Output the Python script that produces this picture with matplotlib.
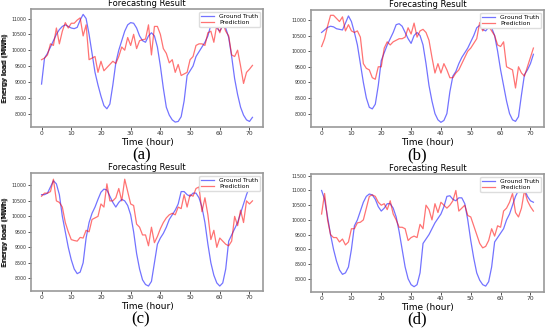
import numpy as np
import matplotlib
matplotlib.use('Agg')
import matplotlib.pyplot as plt
from matplotlib import font_manager

hours = np.arange(72)

# (a)
truth_a = [8930, 9750, 9900, 10100, 10300, 10500, 10650, 10750, 10800, 10750,
           10700, 10680, 10720, 10950, 11130, 11000, 10500, 9900, 9300, 8900,
           8550, 8250, 8150, 8300, 8900, 9600, 10000, 10300, 10600, 10800,
           10870, 10850, 10700, 10450, 10300, 10250, 10450, 10550, 10450, 10100,
           9500, 8800, 8200, 7950, 7800, 7730, 7750, 7900, 8400, 9200,
           9350, 9500, 9800, 9950, 10100, 10250, 10450, 10800, 10820, 10700,
           10600, 10780, 10700, 10400, 9800, 9100, 8600, 8200, 7950, 7800,
           7750, 7880]
pred_a = [9700, 9750, 9850, 10200, 10150, 10700, 10200, 10600, 10870, 10700,
          10850, 10850, 10950, 11020, 10450, 10800, 9700, 9750, 9800, 9300,
          9650, 9350, 9450, 9550, 9650, 9580, 9800, 10100, 10000, 10400,
          10150, 10500, 10050, 10300, 10330, 10350, 10800, 9850, 10750, 10750,
          10500, 10050, 9900, 9600, 9700, 9300, 9550, 9200, 9250, 9300,
          9700, 9800, 10150, 10200, 10200, 10150, 10550, 10600, 10250, 10800,
          10550, 10850, 10600, 10450, 9850, 9800, 10000, 9500, 8950, 9300,
          9400, 9520]

# (b)
truth_b = [10600, 10680, 10760, 10800, 10780, 10720, 10700, 10680, 10900, 11130,
           10950, 10600, 10200, 9600, 9000, 8500, 8200, 8150, 8300, 8900,
           9700, 9950, 10200, 10400, 10600, 10850, 10880, 10800, 10600, 10400,
           10250, 10500, 10600, 10500, 10200, 9600, 8900, 8400, 8000, 7800,
           7720, 7780, 8000, 8700, 9200, 9350, 9600, 9800, 9950, 10100,
           10300, 10500, 10750, 10830, 10700, 10650, 10770, 10750, 10500, 10000,
           9400, 8900, 8400, 8000, 7800, 7750, 7900, 8600, 9250, 9400,
           9600, 9900]
pred_b = [10150, 10400, 10800, 11150, 11150, 11050, 10950, 11100, 10650, 10850,
          10650, 10600, 10650, 10450, 9600, 9450, 9400, 9150, 9100, 9500,
          9500, 10100, 10300, 10200, 10300, 10350, 10400, 10400, 10450, 10750,
          10550, 10900, 10450, 10650, 10700, 10600, 10350, 9800, 9300, 9600,
          9300, 9600, 9400, 9150, 9150, 9300, 9400, 9600, 9800, 10000,
          10100, 10250, 10400, 10920, 10650, 10800, 10800, 10650, 10500, 10200,
          10150, 10300, 9500, 9450, 9400, 8820, 9500, 9300, 9200, 9500,
          9800, 10100]

# (c)
truth_c = [10700, 10700, 10750, 10950, 11150, 11050, 10700, 10000, 9500, 9000,
           8600, 8300, 8150, 8200, 8500, 9300, 9800, 10100, 10300, 10550,
           10780, 10880, 10850, 10650, 10450, 10300, 10450, 10550, 10500, 10350,
           10050, 9500, 8800, 8300, 7950, 7800, 7750, 7900, 8500, 9100,
           9300, 9450, 9650, 9900, 10050, 10200, 10400, 10800, 10800, 10700,
           10650, 10750, 10750, 10600, 10300, 9800, 9100, 8500, 8100, 7850,
           7750, 7850, 8300, 9200, 9400, 9600, 9800, 10100, 10400, 10700,
           10950, 11200]
pred_c = [10650, 10750, 10750, 10800, 11200, 10500, 10450, 10300, 9800, 9500,
          9250, 9220, 9200, 9320, 9300, 9550, 9500, 9900, 9950, 10000,
          10400, 10300, 11050, 10500, 10500, 10600, 10900, 10500, 11200, 10800,
          10400, 10350, 9750, 9650, 9400, 9400, 9050, 9650, 9150, 9350,
          9600, 9800, 9950, 10050, 10100, 10050, 10300, 10250, 10700, 10300,
          10700, 10650, 10900, 10950, 10150, 10600, 10050, 9250, 9550, 9000,
          9300, 9200, 9100, 9050, 9200, 10000, 9700, 10200, 9800, 10500,
          10400, 10500]

# (d)
truth_d = [11000, 10700, 10100, 9500, 9000, 8600, 8300, 8150, 8200, 8400,
           9000, 9800, 10000, 10300, 10600, 10800, 10880, 10850, 10700, 10450,
           10300, 10400, 10550, 10550, 10400, 10100, 9600, 9000, 8400, 8000,
           7800, 7730, 7800, 8200, 9200, 9350, 9500, 9700, 9900, 10050,
           10200, 10450, 10800, 10820, 10700, 10650, 10750, 10750, 10550, 10000,
           9300, 8700, 8200, 7950, 7800, 7750, 7900, 8400, 9250, 9400,
           9550, 9700, 10000, 10200, 10500, 10800, 11000, 11100, 11050, 10800,
           10650, 10600]
pred_d = [10200, 10900, 10000, 9500, 9400, 9400, 9250, 9350, 9150, 9250,
          9700, 9700, 9900, 9920, 10000, 10400, 10800, 10850, 10800, 10600,
          10500, 10550, 10350, 10650, 10200, 10000, 9750, 9750, 9700, 9300,
          9400, 9450, 9400, 9850, 9700, 10500, 10350, 10000, 10550, 10250,
          10600, 10500, 10400, 10500, 10650, 11000, 10300, 10400, 10500, 10150,
          10100, 9800, 9500, 9200, 9050, 9100, 9300, 9700, 9450, 9800,
          9750, 10300, 10400, 10600, 10900, 10250, 10100, 10400, 11000, 10650,
          10450, 10300]

panels = [
    ('(a)', truth_a, pred_a, (7575, 11300)),
    ('(b)', truth_b, pred_b, (7570, 11320)),
    ('(c)', truth_c, pred_c, (7590, 11400)),
    ('(d)', truth_d, pred_d, (7550, 11560)),
]

# axes boxes in pixels: left, top, right, bottom ; and panel tag centre
boxes = [(31, 9, 263, 127), (311, 10, 544, 127),
         (31, 173, 263, 291), (311, 174, 544, 292)]
tag_pos = [(142, 155), (417, 155), (141, 319), (417, 319)]

names = {f.name for f in font_manager.fontManager.ttflist}
narrow = 'Liberation Sans Narrow' if 'Liberation Sans Narrow' in names else 'DejaVu Sans'
ysize = 4.0 if narrow != 'DejaVu Sans' else 3.4

W, H = 550, 329
fig = plt.figure(figsize=(W / 100, H / 100), dpi=100)

for (tag, truth, pred, ylim), (l, t, r, b), (tx, ty) in zip(panels, boxes, tag_pos):
    ax = fig.add_axes([l / W, (H - b) / H, (r - l) / W, (b - t) / H])
    ax.plot(hours, truth, color='b', alpha=0.55, lw=0.9, label='Ground Truth')
    ax.plot(hours, pred, color='r', alpha=0.55, lw=0.9, label='Prediction')
    ax.set_xlim(-3.55, 74.55)
    ax.set_ylim(*ylim)
    ax.set_xticks(np.arange(0, 71, 10))
    yt = np.arange(8000, ylim[1], 500)
    ax.tick_params(labelsize=4.3, length=2, width=0.6, pad=1.0, colors='#333333')
    ax.set_yticks(yt, labels=[str(int(v)) for v in yt], fontfamily=narrow,
                  fontsize=ysize)
    for s in ax.spines.values():
        s.set_color('#999999')
        s.set_linewidth(1.2)
    ax.set_title('Forecasting Result', fontsize=6, pad=2)
    ax.set_xlabel('Time (hour)', fontsize=6.5, labelpad=1)
    ax.set_ylabel('Energy load (MWh)', fontsize=5.2)
    ax.yaxis.set_label_coords(-(l - 8.5) / (r - l), 0.5)
    ax.legend(loc='upper right', fontsize=4.3, handlelength=2.2, borderpad=0.3,
              labelspacing=0.2, framealpha=1, edgecolor='#dddddd')
    fig.text(tx / W, 1 - ty / H, tag, ha='center', va='center',
             fontsize=12, family='Liberation Serif')

fig.savefig('out.png', dpi=100)
